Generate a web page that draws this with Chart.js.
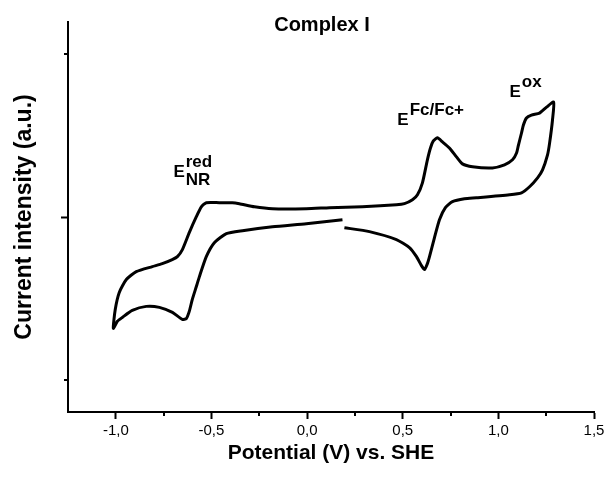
<!DOCTYPE html>
<html>
<head>
<meta charset="utf-8">
<title>Complex I</title>
<script src="https://cdn.jsdelivr.net/npm/chart.js@4/dist/chart.umd.min.js"></script>
<style>
    html, body { margin: 0; padding: 0; background: #fff; }
    #wrap { width: 608px; height: 477px; }
</style>
</head>
<body>
<div id="wrap"><canvas id="cv" width="608" height="477"></canvas></div>
<script>
// --- CV trace of Complex I: potential (V vs. SHE) and current (a.u.) ---
const potential = [
    0.195, 0.326, 0.467, 0.535, 0.572, 0.598, 0.614, 0.629, 0.640, 0.666,
    0.692, 0.723, 0.760, 0.823, 0.885, 1.058, 1.121, 1.163, 1.205, 1.231,
    1.257, 1.268, 1.283, 1.289,
    1.252, 1.215, 1.173, 1.147, 1.131, 1.121, 1.105, 1.095, 1.074, 1.032,
    0.969, 0.865, 0.812, 0.781, 0.744, 0.708, 0.681, 0.660, 0.645, 0.629,
    0.603, 0.577, 0.551, 0.509, 0.467, 0.289, 0.117, -0.004, -0.181, -0.275,
    -0.354, -0.391, -0.459, -0.527, -0.553, -0.579, -0.616, -0.652, -0.678, -0.705,
    -0.757, -0.809, -0.893, -0.945, -0.982, -1.003, -1.013,
    -0.992, -0.966, -0.914, -0.841, -0.772, -0.704, -0.652, -0.631, -0.616, -0.600,
    -0.579, -0.563, -0.527, -0.485, -0.422, -0.338, -0.181, -0.004, 0.185
];
const current = [
    -0.066, -0.090, -0.139, -0.188, -0.244, -0.299, -0.323, -0.287, -0.244, -0.127,
    -0.017, 0.057, 0.094, 0.112, 0.118, 0.137, 0.149, 0.186, 0.241, 0.290,
    0.382, 0.456, 0.597, 0.707,
    0.676, 0.639, 0.627, 0.609, 0.566, 0.517, 0.443, 0.394, 0.352, 0.321,
    0.302, 0.309, 0.327, 0.370, 0.425, 0.462, 0.487, 0.468, 0.425, 0.352,
    0.210, 0.137, 0.106, 0.082, 0.075, 0.063, 0.057, 0.051, 0.051, 0.063,
    0.082, 0.088, 0.088, 0.088, 0.063, 0.002, -0.096, -0.201, -0.244, -0.262,
    -0.287, -0.305, -0.336, -0.385, -0.464, -0.569, -0.685,
    -0.642, -0.618, -0.575, -0.550, -0.556, -0.587, -0.630, -0.624, -0.581, -0.507,
    -0.428, -0.367, -0.244, -0.158, -0.102, -0.084, -0.060, -0.041, -0.017
];

const xTicks = [-1, -0.75, -0.5, -0.25, 0, 0.25, 0.5, 0.75, 1, 1.25, 1.5];
const xMajor = [-1, -0.5, 0, 0.5, 1, 1.5];
const yTicks = [-1, 0, 1];
const yMajor = [0];

// peak labels: base letter, superscript, subscript, anchor (V, a.u.)
const peakBase = ['E', 'E', 'E'];
const peakSup = ['red', 'Fc/Fc+', 'ox'];
const peakSub = ['NR', '', ''];
const peakAt = [[-0.699, 0.247], [0.472, 0.566], [1.058, 0.738]];

const FONT = '"Liberation Sans", Arial, Helvetica, sans-serif';

const isMajor = (list, v) => list.some(m => Math.abs(m - v) < 1e-6);
const fmtComma = v => v.toFixed(1).replace('.', ',');

// short minor tick marks, title and peak labels
const extras = {
    id: 'extras',
    afterDraw(chart) {
        const { ctx, chartArea: a, scales: { x, y } } = chart;
        ctx.save();
        ctx.strokeStyle = '#000';
        ctx.lineWidth = 2;
        ctx.beginPath();
        xTicks.filter(v => !isMajor(xMajor, v)).forEach(v => {
            const px = Math.round(x.getPixelForValue(v));
            ctx.moveTo(px, a.bottom);
            ctx.lineTo(px, a.bottom + 4);
        });
        yTicks.filter(v => !isMajor(yMajor, v)).forEach(v => {
            const py = Math.round(y.getPixelForValue(v));
            ctx.moveTo(a.left, py);
            ctx.lineTo(a.left - 4, py);
        });
        ctx.stroke();

        ctx.fillStyle = '#000';
        ctx.textBaseline = 'alphabetic';
        ctx.textAlign = 'center';
        ctx.font = `bold 20px ${FONT}`;
        ctx.fillText('Complex I', (a.left + a.right) / 2 - 9, a.top + 9);

        ctx.textAlign = 'left';
        ctx.font = `bold 17px ${FONT}`;
        peakBase.forEach((b, i) => {
            const px = x.getPixelForValue(peakAt[i][0]);
            const py = y.getPixelForValue(peakAt[i][1]);
            ctx.fillText(b, px, py);
            const w = ctx.measureText(b).width + 1;
            if (peakSup[i]) ctx.fillText(peakSup[i], px + w, py - 10);
            if (peakSub[i]) ctx.fillText(peakSub[i], px + w, py + 8);
        });
        ctx.restore();
    }
};

new Chart(document.getElementById('cv'), {
    type: 'scatter',
    data: {
        datasets: [{
            data: potential.map((v, i) => ({ x: v, y: current[i] })),
            showLine: true,
            borderColor: '#000',
            borderWidth: 3,
            borderJoinStyle: 'round',
            pointRadius: 0,
            tension: 0.2
        }]
    },
    options: {
        responsive: false,
        devicePixelRatio: 1,
        animation: false,
        layout: { padding: { top: 22, right: 14, left: 0, bottom: 0 } },
        plugins: { legend: { display: false }, tooltip: { enabled: false } },
        scales: {
            x: {
                type: 'linear',
                min: -1.25,
                max: 1.5,
                afterFit: s => { s.height = 65; },
                afterBuildTicks: s => { s.ticks = xTicks.map(v => ({ value: v })); },
                ticks: {
                    autoSkip: false,
                    maxRotation: 0,
                    padding: 3,
                    color: '#000',
                    font: { family: FONT, size: 15 },
                    callback: v => isMajor(xMajor, v) ? fmtComma(v) : ''
                },
                grid: {
                    drawOnChartArea: false,
                    tickLength: 7,
                    tickWidth: 2,
                    tickColor: c => c.tick && isMajor(xMajor, c.tick.value) ? '#000' : 'rgba(0,0,0,0)'
                },
                border: { color: '#000', width: 2 },
                title: {
                    display: true,
                    text: 'Potential (V) vs. SHE',
                    color: '#000',
                    font: { family: FONT, size: 21, weight: 'bold' },
                    padding: { top: 0, bottom: 11 }
                }
            },
            y: {
                type: 'linear',
                min: -1.2,
                max: 1.2,
                afterFit: s => { s.width = 68; },
                afterBuildTicks: s => { s.ticks = yTicks.map(v => ({ value: v })); },
                ticks: { display: false },
                grid: {
                    drawOnChartArea: false,
                    tickLength: 7,
                    tickWidth: 2,
                    tickColor: c => c.tick && isMajor(yMajor, c.tick.value) ? '#000' : 'rgba(0,0,0,0)'
                },
                border: { color: '#000', width: 2 },
                title: {
                    display: true,
                    text: 'Current intensity (a.u.)',
                    color: '#000',
                    font: { family: FONT, size: 23, weight: 'bold' },
                    padding: { top: 11, bottom: 0 }
                }
            }
        }
    },
    plugins: [extras]
});
</script>
</body>
</html>
